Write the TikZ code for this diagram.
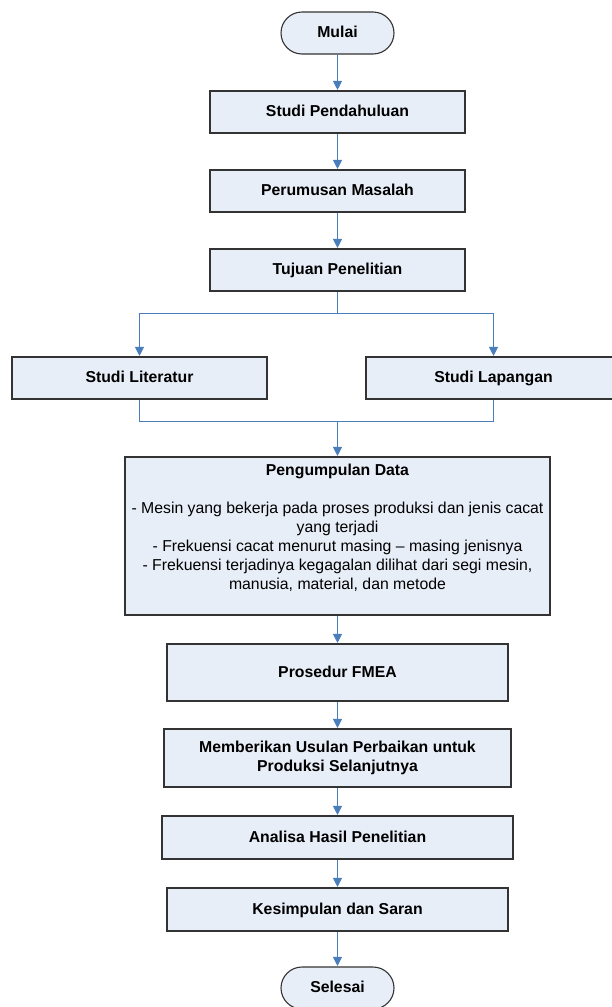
\documentclass[tikz,border=0pt]{standalone}
\usepackage{fontspec}
\setmainfont{Liberation Sans}
\usetikzlibrary{arrows.meta}
\definecolor{boxfill}{HTML}{E8EEF8}
\definecolor{boxline}{HTML}{333333}
\definecolor{connblue}{HTML}{4A7EBB}
\tikzset{
  x=1pt,y=-1pt,
  procbox/.style={draw=boxline,line width=1.1pt,fill=boxfill,rectangle,inner sep=2pt,align=center,
    font=\fontsize{15.8}{19}\selectfont\bfseries},
  onebox/.style={procbox,text height=12pt,text depth=3pt},
  termbox/.style={onebox,rounded corners=21pt,minimum width=113pt,minimum height=42pt},
  conn/.style={draw=connblue,line width=0.9pt},
  arr/.style={conn,-{Triangle[width=9pt,length=9pt]},shorten >=0.5pt},
}
\begin{document}
\begin{tikzpicture}
\useasboundingbox (0,0) rectangle (612,1007);
\node[termbox] (mulai) at (337.5,33) {Mulai};
\node[onebox,minimum width=255pt,minimum height=42pt] (sp) at (337.5,112) {Studi Pendahuluan};
\node[onebox,minimum width=255pt,minimum height=42pt] (pm) at (337.5,191) {Perumusan Masalah};
\node[onebox,minimum width=255pt,minimum height=42pt] (tp) at (337.5,270) {Tujuan Penelitian};
\coordinate (split) at (337.5,313);
\node[onebox,minimum width=255pt,minimum height=42pt] (lit) at (139.5,378) {Studi Literatur};
\node[onebox,minimum width=255pt,minimum height=42pt] (lap) at (493.5,378) {Studi Lapangan};
\coordinate (join) at (337.5,421);
\node[procbox,minimum width=425pt,minimum height=158pt,font=\fontsize{15.8}{19}\selectfont] (pd) at (337.5,536)
  {\textbf{Pengumpulan Data}\\
   \mbox{}\\
   - Mesin yang bekerja pada proses produksi dan jenis cacat\\
   yang terjadi\\
   - Frekuensi cacat menurut masing -- masing jenisnya\\
   - Frekuensi terjadinya kegagalan dilihat dari segi mesin,\\
   manusia, material, dan metode\\
   \mbox{}};
\node[onebox,minimum width=341pt,minimum height=57pt] (fmea) at (337.5,672.5) {Prosedur FMEA};
\node[procbox,minimum width=347pt,minimum height=58pt] (usul) at (337.5,758) {Memberikan Usulan Perbaikan untuk\\Produksi Selanjutnya};
\node[onebox,minimum width=351pt,minimum height=43pt] (ana) at (337.5,837.5) {Analisa Hasil Penelitian};
\node[onebox,minimum width=341pt,minimum height=43pt] (kes) at (337.5,909.5) {Kesimpulan dan Saran};
\node[termbox] (sel) at (337.5,988) {Selesai};
\draw[arr] (mulai) -- (sp);
\draw[arr] (sp) -- (pm);
\draw[arr] (pm) -- (tp);
\draw[conn] (tp.south) -- (split);
\draw[arr] (split) -| (lit.north);
\draw[arr] (split) -| (lap.north);
\draw[conn] (lit.south) |- (join);
\draw[conn] (lap.south) |- (join);
\draw[arr] (join) -- (pd.north);
\draw[arr] (pd) -- (fmea);
\draw[arr] (fmea) -- (usul);
\draw[arr] (usul) -- (ana);
\draw[arr] (ana) -- (kes);
\draw[arr] (kes) -- (sel);
\end{tikzpicture}
\end{document}
